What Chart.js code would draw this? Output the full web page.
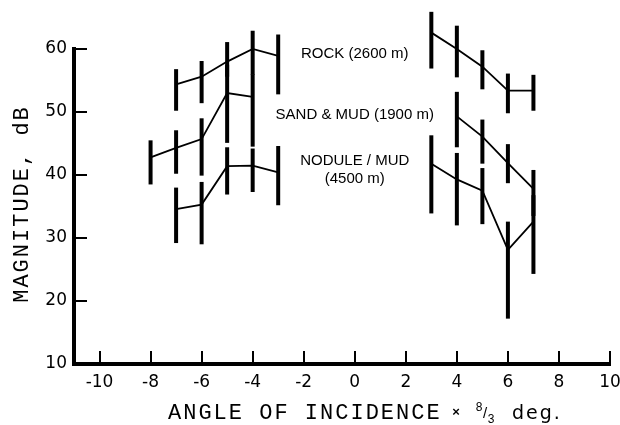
<!DOCTYPE html>
<html>
<head>
<meta charset="utf-8">
<script src="https://cdn.jsdelivr.net/npm/chart.js@4.4.1/dist/chart.umd.min.js"></script>
<style>
  html, body { margin: 0; padding: 0; background: #fff; }
</style>
</head>
<body>
<canvas id="chart" width="620" height="425"></canvas>
<script>
// axis ticks
const xTicks = [-10, -8, -6, -4, -2, 0, 2, 4, 6, 8, 10];
const yTicks = [10, 20, 30, 40, 50, 60];

// ROCK (2600 m)
const rockX  = [-7, -6, -5, -4, -3, 3, 4, 5, 6, 7];
const rockY  = [54.4, 55.6, 58.0, 60.0, 58.9, 62.6, 60.0, 57.2, 53.4, 53.4];
const rockLo = [50.2, 51.4, 55.6, 55.9, 52.8, 56.9, 55.5, 53.6, 49.8, 50.2];
const rockHi = [56.8, 58.1, 61.1, 62.9, 62.3, 65.9, 63.7, 59.8, 56.1, 55.9];

// SAND & MUD (1900 m)
const sandX  = [-8, -7, -6, -5, -4, 4, 5, 6, 7];
const sandY  = [42.8, 44.3, 45.7, 53.0, 52.4, 49.3, 46.1, 41.9, 37.8];
const sandLo = [38.5, 40.2, 39.9, 45.1, 44.5, 44.4, 41.8, 38.7, 33.5];
const sandHi = [45.5, 47.1, 49.0, 57.5, 56.0, 53.2, 48.8, 44.9, 40.8];

// NODULE / MUD (4500 m)
const noduleX  = [-7, -6, -5, -4, -3, 3, 4, 5, 6, 7];
const noduleY  = [34.6, 35.3, 41.4, 41.5, 40.4, 41.8, 39.3, 37.5, 28.1, 32.6];
const noduleLo = [29.2, 29.0, 36.9, 37.3, 35.2, 33.9, 32.0, 32.2, 17.2, 24.3];
const noduleHi = [38.0, 38.9, 44.4, 44.2, 44.6, 46.3, 43.5, 41.1, 32.6, 36.8];

// curve labels, anchored in data units
const curveLabels = [
  { text: 'ROCK (2600 m)', x: 0, y: 59.2 },
  { text: 'SAND & MUD (1900 m)', x: 0, y: 49.5 },
  { text: 'NODULE / MUD', x: 0, y: 42.2 },
  { text: '(4500 m)', x: 0, y: 39.4 }
];

const series = (label, xs, ys, lo, hi) => ({
  label,
  data: xs.map((x, i) => ({ x, y: ys[i] })),
  lo, hi,
  borderColor: '#000',
  borderWidth: 1.8,
  pointRadius: 0,
  tension: 0,
  clip: false,
  // no line across the gap between the two sides
  segment: { borderColor: c => (c.p0.parsed.x < 0 && c.p1.parsed.x > 0) ? 'rgba(0,0,0,0)' : '#000' }
});

const errorBars = {
  id: 'errorBars',
  afterDatasetsDraw(chart) {
    const { ctx, scales: { x, y } } = chart;
    ctx.save();
    ctx.strokeStyle = '#000';
    ctx.lineWidth = 4;
    ctx.lineCap = 'butt';
    chart.data.datasets.forEach(ds => {
      ds.data.forEach((p, i) => {
        const px = x.getPixelForValue(p.x);
        ctx.beginPath();
        ctx.moveTo(px, y.getPixelForValue(ds.lo[i]));
        ctx.lineTo(px, y.getPixelForValue(ds.hi[i]));
        ctx.stroke();
      });
    });
    ctx.restore();
  }
};

const decorations = {
  id: 'decorations',
  afterDraw(chart) {
    const { ctx, chartArea: a, scales: { x, y } } = chart;
    ctx.save();
    ctx.fillStyle = '#000';
    ctx.strokeStyle = '#000';

    // inward tick marks
    ctx.lineWidth = 2;
    x.ticks.forEach(t => {
      const px = Math.round(x.getPixelForValue(t.value));
      ctx.beginPath();
      ctx.moveTo(px, a.bottom);
      ctx.lineTo(px, a.bottom - 13);
      ctx.stroke();
    });
    y.ticks.forEach(t => {
      const py = Math.round(y.getPixelForValue(t.value));
      ctx.beginPath();
      ctx.moveTo(a.left, py);
      ctx.lineTo(a.left + 13, py);
      ctx.stroke();
    });

    // curve labels
    ctx.font = '15px "Liberation Sans"';
    ctx.textAlign = 'center';
    ctx.textBaseline = 'middle';
    curveLabels.forEach(l => {
      ctx.fillText(l.text, x.getPixelForValue(l.x), y.getPixelForValue(l.y));
    });

    // y axis title
    ctx.save();
    ctx.translate(22, 204);
    ctx.rotate(-Math.PI / 2);
    ctx.font = '22px "Liberation Mono"';
    ctx.letterSpacing = '2px';
    ctx.textAlign = 'center';
    ctx.textBaseline = 'middle';
    ctx.fillText('MAGNITUDE, dB', 0, 0);
    ctx.restore();

    // x axis title
    ctx.textAlign = 'left';
    ctx.textBaseline = 'alphabetic';
    ctx.font = '22px "Liberation Mono"';
    ctx.letterSpacing = '2px';
    ctx.fillText('ANGLE OF INCIDENCE', 168, 419);
    ctx.letterSpacing = '0px';
    ctx.font = 'bold 13px "Liberation Sans"';
    ctx.textAlign = 'center';
    ctx.fillText('×', 456, 416);
    ctx.font = '12px "Liberation Sans"';
    ctx.fillText('8', 479, 411);
    ctx.font = '15px "Liberation Sans"';
    ctx.fillText('/', 485, 418);
    ctx.font = '12px "Liberation Sans"';
    ctx.fillText('3', 491, 423);
    ctx.textAlign = 'left';
    ctx.font = '19px "DejaVu Sans"';
    ctx.letterSpacing = '2px';
    ctx.fillText('deg.', 512, 419);

    ctx.restore();
  }
};

new Chart(document.getElementById('chart'), {
  type: 'line',
  data: {
    datasets: [
      series('ROCK (2600 m)', rockX, rockY, rockLo, rockHi),
      series('SAND & MUD (1900 m)', sandX, sandY, sandLo, sandHi),
      series('NODULE / MUD (4500 m)', noduleX, noduleY, noduleLo, noduleHi)
    ]
  },
  options: {
    responsive: false,
    animation: false,
    devicePixelRatio: 1,
    layout: { padding: { top: 49, right: 10, left: 0, bottom: 0 } },
    plugins: { legend: { display: false }, tooltip: { enabled: false } },
    scales: {
      x: {
        type: 'linear',
        min: -11,
        max: 10,
        afterBuildTicks: s => { s.ticks = xTicks.map(v => ({ value: v })); },
        afterFit: s => { s.height = 61; s.paddingLeft = 0; s.paddingRight = 0; },
        grid: { display: false, drawTicks: false },
        border: { display: true, width: 4, color: '#000' },
        ticks: { color: '#000', padding: 8, font: { family: '"DejaVu Sans"', size: 17 } }
      },
      y: {
        min: 10,
        max: 60,
        afterBuildTicks: s => { s.ticks = yTicks.map(v => ({ value: v })); },
        afterFit: s => { s.width = 74; s.paddingTop = 0; s.paddingBottom = 0; },
        grid: { display: false, drawTicks: false },
        border: { display: true, width: 4, color: '#000' },
        ticks: { color: '#000', padding: 7, font: { family: '"DejaVu Sans"', size: 17 } }
      }
    }
  },
  plugins: [errorBars, decorations]
});
</script>
</body>
</html>
